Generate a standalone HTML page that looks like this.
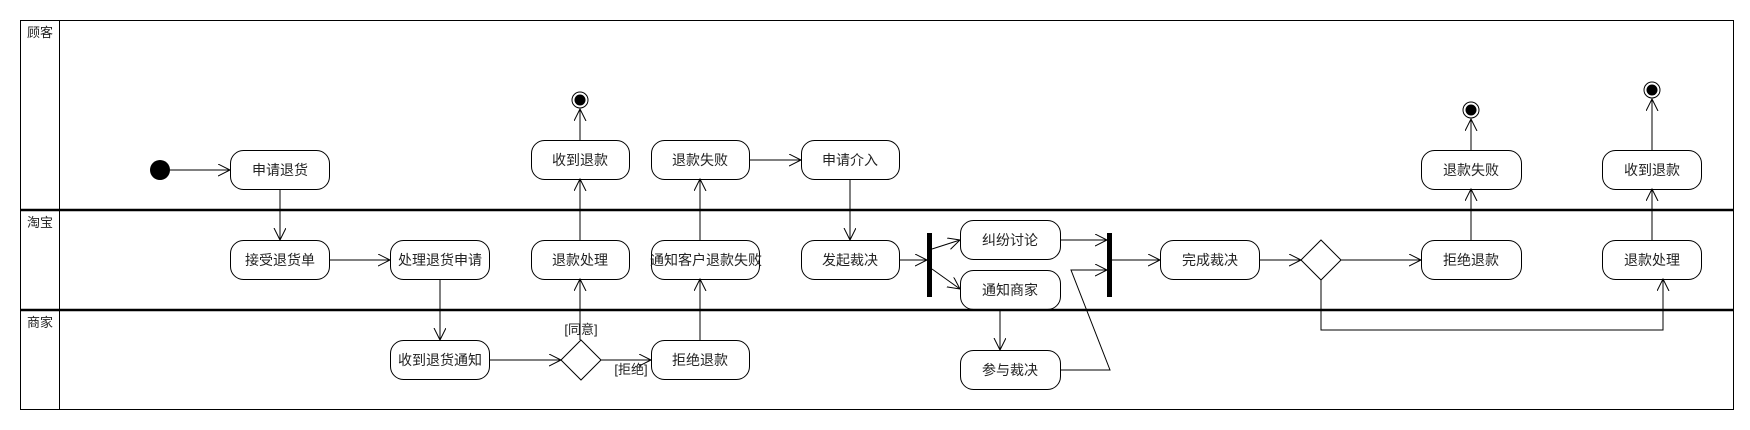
<!DOCTYPE html>
<html><head><meta charset="utf-8"><style>
html,body{margin:0;padding:0;background:#fff}
svg{display:block}
text{font-family:"Liberation Sans","Noto Sans CJK SC",sans-serif;font-size:14px;fill:#222}
</style></head><body>
<svg width="1750" height="430" viewBox="0 0 1750 430" xmlns="http://www.w3.org/2000/svg">
<defs>
<marker id="a" markerWidth="14" markerHeight="14" refX="12" refY="6" orient="auto" markerUnits="userSpaceOnUse">
<polyline points="0,0 12,6 0,12" fill="none" stroke="#000" stroke-width="1"/>
</marker>
</defs>
<!-- swimlanes -->
<rect x="20.5" y="20.5" width="1713" height="389" fill="none" stroke="#000" stroke-width="1"/>
<line x1="59.5" y1="20" x2="59.5" y2="410" stroke="#000"/>
<line x1="20" y1="210" x2="1734" y2="210" stroke="#000" stroke-width="2.5"/>
<line x1="20" y1="310" x2="1734" y2="310" stroke="#000" stroke-width="2.5"/>
<text x="27" y="37" style="font-size:13px">顾客</text>
<text x="27" y="227" style="font-size:13px">淘宝</text>
<text x="27" y="327" style="font-size:13px">商家</text>

<g fill="none" stroke="#000" stroke-width="1">
<!-- connectors -->
<line x1="170" y1="170" x2="230" y2="170" marker-end="url(#a)"/>
<line x1="280" y1="189" x2="280" y2="240" marker-end="url(#a)"/>
<line x1="329" y1="260" x2="390" y2="260" marker-end="url(#a)"/>
<line x1="440" y1="279" x2="440" y2="340" marker-end="url(#a)"/>
<line x1="489" y1="360" x2="561" y2="360" marker-end="url(#a)"/>
<line x1="580" y1="340" x2="580" y2="279" marker-end="url(#a)"/>
<line x1="601" y1="360" x2="651" y2="360" marker-end="url(#a)"/>
<line x1="580" y1="240" x2="580" y2="179" marker-end="url(#a)"/>
<line x1="580" y1="140" x2="580" y2="109" marker-end="url(#a)"/>
<line x1="700" y1="340" x2="700" y2="279" marker-end="url(#a)"/>
<line x1="700" y1="240" x2="700" y2="179" marker-end="url(#a)"/>
<line x1="749" y1="160" x2="801" y2="160" marker-end="url(#a)"/>
<line x1="850" y1="179" x2="850" y2="240" marker-end="url(#a)"/>
<line x1="899" y1="260" x2="927" y2="260" marker-end="url(#a)"/>
<line x1="932" y1="249" x2="960" y2="240" marker-end="url(#a)"/>
<line x1="932" y1="269" x2="960" y2="289" marker-end="url(#a)"/>
<line x1="1060" y1="240" x2="1107" y2="240" marker-end="url(#a)"/>
<line x1="1000" y1="309" x2="1000" y2="350" marker-end="url(#a)"/>
<polyline points="1060,370 1110,370 1071,270 1107,270" marker-end="url(#a)"/>
<line x1="1112" y1="260" x2="1160" y2="260" marker-end="url(#a)"/>
<line x1="1259" y1="260" x2="1301" y2="260" marker-end="url(#a)"/>
<line x1="1341" y1="260" x2="1421" y2="260" marker-end="url(#a)"/>
<line x1="1471" y1="240" x2="1471" y2="189" marker-end="url(#a)"/>
<line x1="1471" y1="150" x2="1471" y2="119" marker-end="url(#a)"/>
<polyline points="1321,280 1321,330 1663,330 1663,279" marker-end="url(#a)"/>
<line x1="1652" y1="240" x2="1652" y2="189" marker-end="url(#a)"/>
<line x1="1652" y1="150" x2="1652" y2="99" marker-end="url(#a)"/>

<!-- nodes -->
<rect x="230.5" y="150.5" width="99" height="39" rx="13"/>
<rect x="230.5" y="240.5" width="99" height="39" rx="13"/>
<rect x="390.5" y="240.5" width="99" height="39" rx="13"/>
<rect x="390.5" y="340.5" width="99" height="39" rx="13"/>
<polygon points="581,340 601,360 581,380 561,360"/>
<rect x="531.5" y="140.5" width="98" height="39" rx="13"/>
<rect x="531.5" y="240.5" width="98" height="39" rx="13"/>
<rect x="651.5" y="140.5" width="98" height="39" rx="13"/>
<rect x="651.5" y="240.5" width="108" height="39" rx="13"/>
<rect x="651.5" y="340.5" width="98" height="39" rx="13"/>
<rect x="801.5" y="140.5" width="98" height="39" rx="13"/>
<rect x="801.5" y="240.5" width="98" height="39" rx="13"/>
<rect x="960.5" y="220.5" width="100" height="39" rx="13"/>
<rect x="960.5" y="270.5" width="100" height="39" rx="13"/>
<rect x="960.5" y="350.5" width="100" height="39" rx="13"/>
<rect x="1160.5" y="240.5" width="99" height="39" rx="13"/>
<polygon points="1321,240 1341,260 1321,280 1301,260"/>
<rect x="1421.5" y="240.5" width="100" height="39" rx="13"/>
<rect x="1421.5" y="150.5" width="100" height="39" rx="13"/>
<rect x="1602.5" y="240.5" width="99" height="39" rx="13"/>
<rect x="1602.5" y="150.5" width="99" height="39" rx="13"/>
<circle cx="580" cy="100" r="8"/>
<circle cx="1471" cy="110" r="8"/>
<circle cx="1652" cy="90" r="8"/>
</g>
<circle cx="160" cy="170" r="10" fill="#000"/>
<circle cx="580" cy="100" r="5.5" fill="#000"/>
<circle cx="1471" cy="110" r="5.5" fill="#000"/>
<circle cx="1652" cy="90" r="5.5" fill="#000"/>
<rect x="927" y="233" width="5" height="64" fill="#000"/>
<rect x="1107" y="233" width="5" height="64" fill="#000"/>

<g text-anchor="middle">
<text x="280" y="175">申请退货</text>
<text x="280" y="265">接受退货单</text>
<text x="440" y="265">处理退货申请</text>
<text x="440" y="365">收到退货通知</text>
<text x="580" y="165">收到退款</text>
<text x="580" y="265">退款处理</text>
<text x="700" y="165">退款失败</text>
<text x="706" y="265">通知客户退款失败</text>
<text x="700" y="365">拒绝退款</text>
<text x="850" y="165">申请介入</text>
<text x="850" y="265">发起裁决</text>
<text x="1010" y="245">纠纷讨论</text>
<text x="1010" y="295">通知商家</text>
<text x="1010" y="375">参与裁决</text>
<text x="1210" y="265">完成裁决</text>
<text x="1471" y="265">拒绝退款</text>
<text x="1471" y="175">退款失败</text>
<text x="1652" y="265">退款处理</text>
<text x="1652" y="175">收到退款</text>
<text x="581" y="334" style="font-size:13px">[同意]</text>
<text x="631" y="374" style="font-size:13px">[拒绝]</text>
</g>
</svg>
</body></html>
